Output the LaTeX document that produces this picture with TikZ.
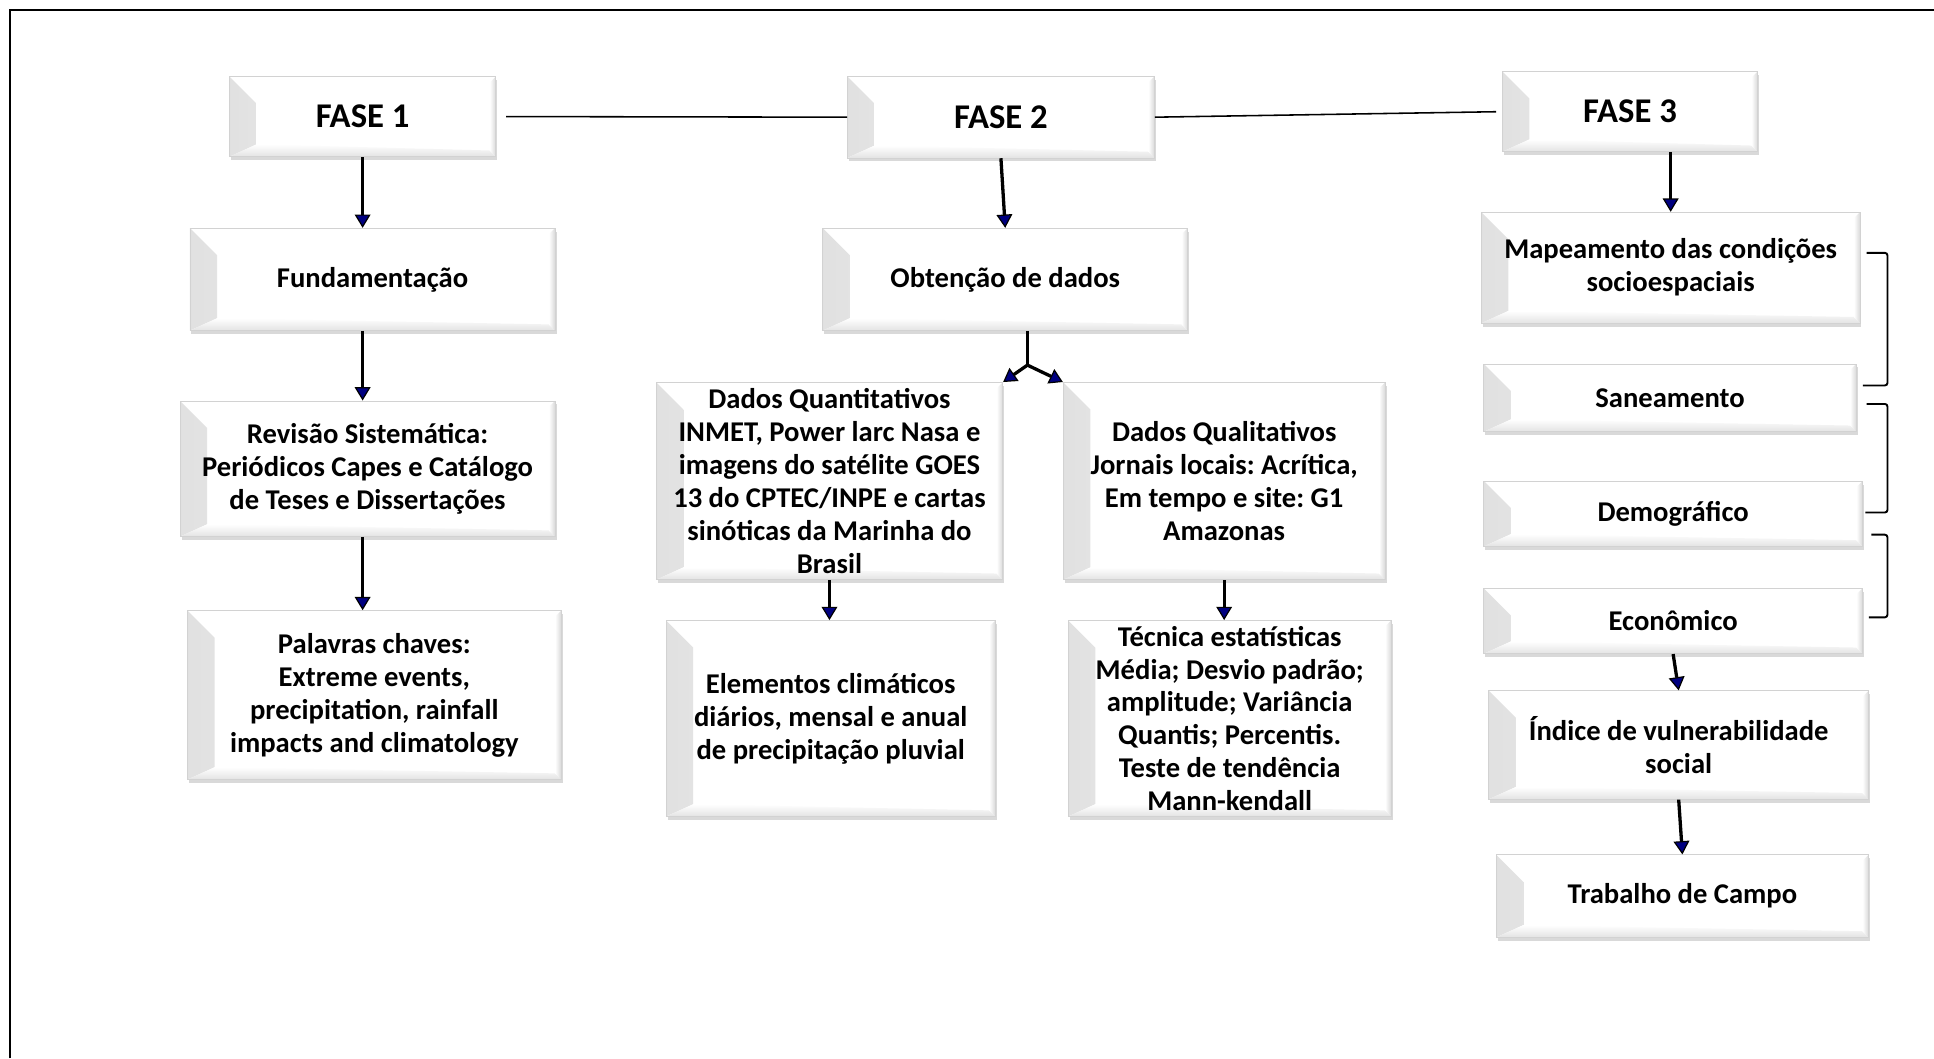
\documentclass[tikz,border=0pt]{standalone}
\usepackage{fontspec}
\setmainfont{Carlito}
\frenchspacing
\usetikzlibrary{arrows.meta,shadows,calc}

\tikzset{
  tam/.style 2 args={minimum width=#1*0.025cm, minimum height=#2*0.025cm},
  caixa/.style={fill=white, draw=gray!35, line width=0.4pt, align=center,
    inner sep=2pt, font=\bfseries\fontsize{16.5}{19}\selectfont,
    drop shadow={shadow xshift=0.3mm, shadow yshift=-0.7mm, opacity=0.3},
    path picture={
      \shade[left color=gray!24, right color=white]
        (path picture bounding box.north west)
        -- ([shift={(22,22)}]path picture bounding box.north west)
        -- ([shift={(22,-10)}]path picture bounding box.south west)
        -- (path picture bounding box.south west) -- cycle;
      \shade[top color=white, bottom color=gray!22]
        ([shift={(22,-10)}]path picture bounding box.south west)
        -- ([shift={(-5,-5)}]path picture bounding box.south east)
        -- (path picture bounding box.south east)
        -- (path picture bounding box.south west) -- cycle;
      \shade[left color=white, right color=gray!30]
        ([shift={(-5,5)}]path picture bounding box.north east)
        -- (path picture bounding box.north east)
        -- (path picture bounding box.south east)
        -- ([shift={(-5,-5)}]path picture bounding box.south east) -- cycle;
    }},
  fase/.style={caixa, font=\bfseries\fontsize{20}{24}\selectfont},
  seta/.style={line width=1.9pt,
    -{Triangle[length=0.27cm, width=0.32cm, fill=blue!50!black, line width=0.7pt]}},
  ligacao/.style={line width=0.9pt},
  chave/.style={line width=1.1pt, rounded corners=1.5pt},
  moldura/.style={line width=1.4pt}
}

\begin{document}
\begin{tikzpicture}[x=0.025cm, y=-0.025cm]
   \useasboundingbox (0,0) rectangle (1568,858);
   \draw[moldura] (8,858) -- (8,8) -- (1568,8);

   \node[fase, tam={216}{65}] (fase1) at (294,94.5) {FASE 1};
   \node[fase, tam={249}{66}] (fase2) at (811.5,95) {FASE 2};
   \node[fase, tam={207}{65}] (fase3) at (1321.5,90.5) {FASE 3};

   \node[caixa, tam={296}{83}] (fund) at (302,226.5) {Fundamentação};
   \node[caixa, tam={304}{110}] (rev) at (298,380)
     {Revisão Sistemática:\\Periódicos Capes e Catálogo\\de Teses e Dissertações};
   \node[caixa, tam={303}{137}] (pal) at (303.5,563.5)
     {Palavras chaves:\\Extreme events,\\precipitation, rainfall\\impacts and climatology};

   \node[caixa, tam={296}{83}] (obt) at (815,226.5) {Obtenção de dados};
   \node[caixa, tam={281}{160}] (quant) at (672.5,390)
     {Dados Quantitativos\\INMET, Power larc Nasa e\\imagens do satélite GOES\\13 do CPTEC/INPE e cartas\\sinóticas da Marinha do\\Brasil};
   \node[caixa, tam={261}{160}] (qual) at (992.5,390)
     {Dados Qualitativos\\Jornais locais: Acrítica,\\Em tempo e site: G1\\Amazonas};
   \node[caixa, tam={267}{159}] (elem) at (673.5,582.5)
     {Elementos climáticos\\diários, mensal e anual\\de precipitação pluvial};
   \node[caixa, tam={262}{159}] (tec) at (997,582.5)
     {Técnica estatísticas\\Média; Desvio padrão;\\amplitude; Variância\\Quantis; Percentis.\\Teste de tendência\\Mann-kendall};

   \node[caixa, tam={307}{90}] (mapa) at (1354.5,217) {Mapeamento das condições\\socioespaciais};
   \node[caixa, tam={302}{55}] (san) at (1354,322.5) {Saneamento};
   \node[caixa, tam={307}{53}] (dem) at (1356.5,416.5) {Demográfico};
   \node[caixa, tam={307}{53}] (eco) at (1356.5,503.5) {Econômico};
   \node[caixa, tam={308}{88}] (ind) at (1361,604) {Índice de vulnerabilidade\\social};
   \node[caixa, tam={302}{67}] (trab) at (1364,726.5) {Trabalho de Campo};

   \draw[ligacao] ([xshift=0.2cm]fase1.east) -- (fase2.west);
   \draw[ligacao, shorten >=0.12cm] (fase2.east) -- (fase3.west);

   \draw[seta] (fase1.south) -- (fase1.south |- fund.north);
   \draw[seta] (fund.south -| fase1.south) -- (rev.north -| fase1.south);
   \draw[seta] (rev.south -| fase1.south) -- (pal.north -| fase1.south);
   \foreach \a/\b in {fase2/obt, eco/ind, ind/trab}
     \draw[seta] (\a.south) -- (\b.north);
   \draw[seta] (quant.south) -- (quant.south |- elem.north);
   \draw[seta] (qual.south) -- (qual.south |- tec.north);
   \draw[seta] (mapa.north |- fase3.south) -- (mapa.north);

   \coordinate (bif) at (833,296);
   \draw[line width=1.9pt] (obt.south -| bif) -- (bif);
   \draw[seta] (bif) -- (quant.north east);
   \draw[seta] (bif) -- (qual.north west);

   \draw[chave] ($(mapa.east)+(5,-12)$) -| ($(san.east)+(25,-10)$) -- ($(san.east)+(5,-10)$);
   \draw[chave] ($(san.east)+(8,5)$) -| ($(dem.east)+(20,-1)$) -- ($(dem.east)+(2,-1)$);
   \draw[chave] ($(dem.east)+(7,17)$) -| ($(eco.east)+(20,-3)$) -- ($(eco.east)+(5,-3)$);
\end{tikzpicture}
\end{document}
